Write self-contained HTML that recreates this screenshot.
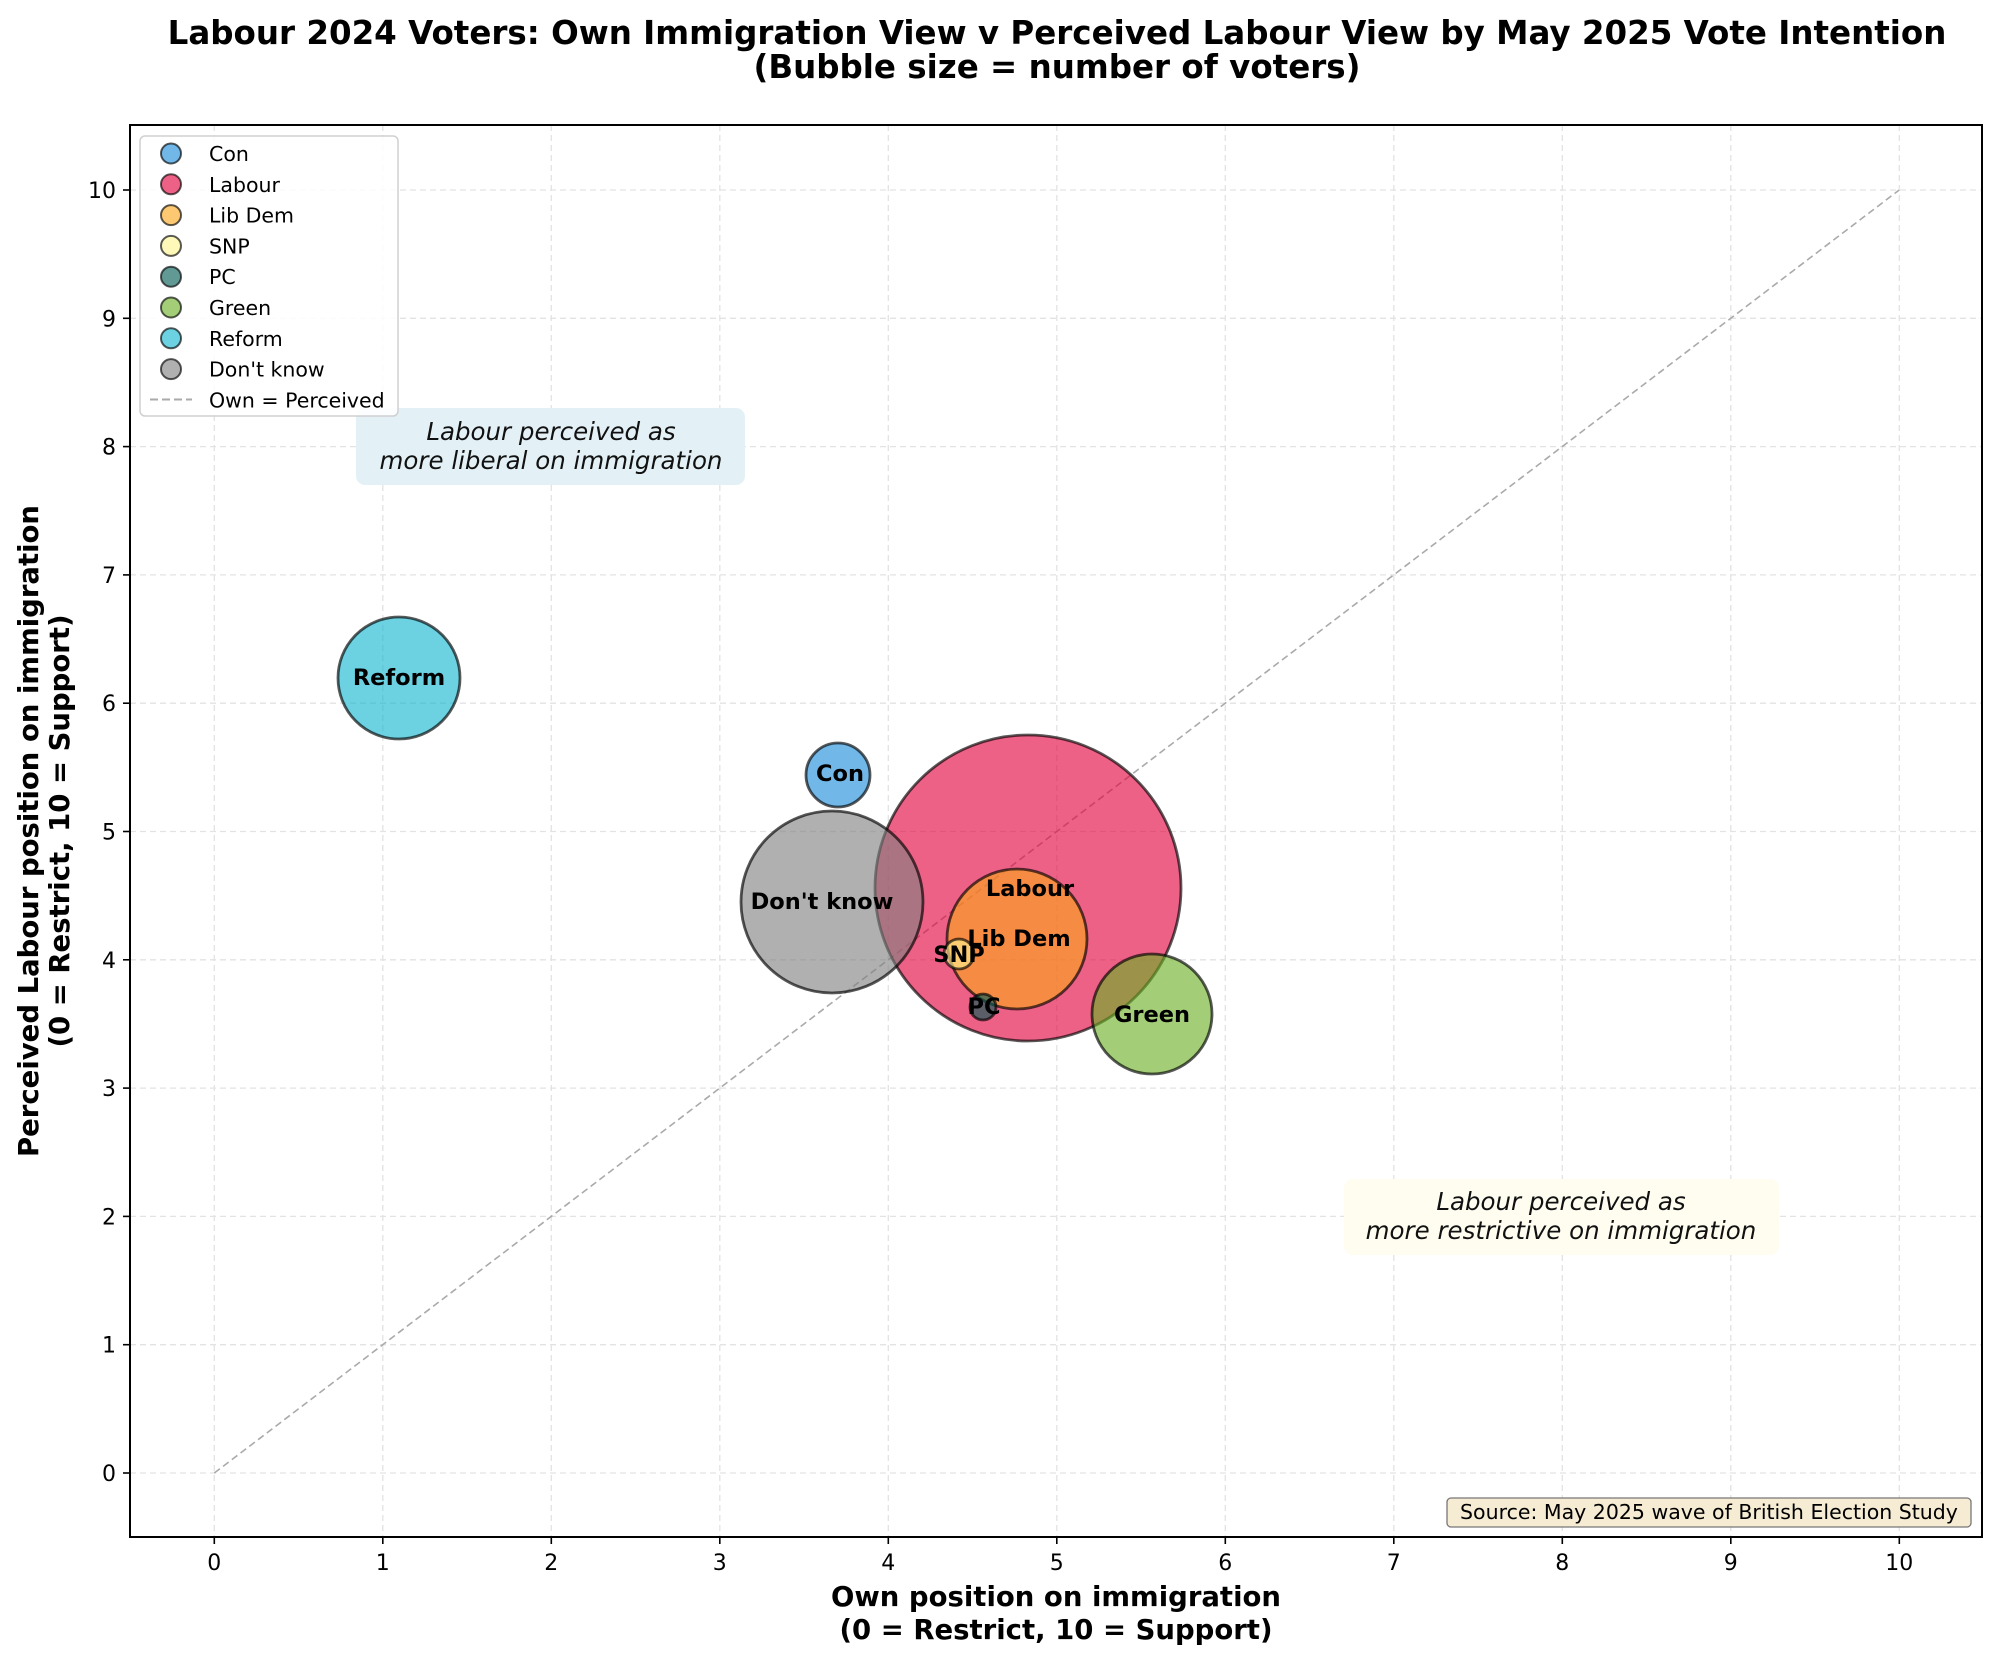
<!DOCTYPE html>
<html><head><meta charset="utf-8"><style>body{margin:0;background:#fff}svg{display:block}text{font-family:"DejaVu Sans","Liberation Sans",sans-serif}</style></head><body>
<svg width="2000" height="1662" viewBox="0 0 2000 1662" xmlns="http://www.w3.org/2000/svg">
<rect width="2000" height="1662" fill="#fff"/>
<g font-weight="bold" font-size="32.5" text-anchor="middle" fill="#000">
<text x="1057" y="44">Labour 2024 Voters: Own Immigration View v Perceived Labour View by May 2025 Vote Intention</text>
<text x="1057" y="78">(Bubble size = number of voters)</text>
</g>
<g stroke="#e3e3e3" stroke-width="1.3" stroke-dasharray="6,4">
<line x1="214.3" y1="125" x2="214.3" y2="1537"/><line x1="382.8" y1="125" x2="382.8" y2="1537"/><line x1="551.3" y1="125" x2="551.3" y2="1537"/><line x1="719.8" y1="125" x2="719.8" y2="1537"/><line x1="888.3" y1="125" x2="888.3" y2="1537"/><line x1="1056.8" y1="125" x2="1056.8" y2="1537"/><line x1="1225.3" y1="125" x2="1225.3" y2="1537"/><line x1="1393.8" y1="125" x2="1393.8" y2="1537"/><line x1="1562.3" y1="125" x2="1562.3" y2="1537"/><line x1="1730.8" y1="125" x2="1730.8" y2="1537"/><line x1="1899.3" y1="125" x2="1899.3" y2="1537"/>
<line x1="130" y1="1473" x2="1982" y2="1473"/><line x1="130" y1="1344.7" x2="1982" y2="1344.7"/><line x1="130" y1="1216.4" x2="1982" y2="1216.4"/><line x1="130" y1="1088.1" x2="1982" y2="1088.1"/><line x1="130" y1="959.8" x2="1982" y2="959.8"/><line x1="130" y1="831.5" x2="1982" y2="831.5"/><line x1="130" y1="703.2" x2="1982" y2="703.2"/><line x1="130" y1="574.9" x2="1982" y2="574.9"/><line x1="130" y1="446.6" x2="1982" y2="446.6"/><line x1="130" y1="318.3" x2="1982" y2="318.3"/><line x1="130" y1="190" x2="1982" y2="190"/>
</g>
<rect x="356" y="408" width="389" height="77" rx="9" fill="#e3f1f6"/>
<rect x="1344" y="1179" width="435" height="76" rx="9" fill="#fffdf0"/>
<g font-style="italic" font-size="24.5" text-anchor="middle" fill="#111">
<text x="551" y="440">Labour perceived as</text><text x="551" y="469">more liberal on immigration</text>
<text x="1561" y="1210">Labour perceived as</text><text x="1561" y="1239">more restrictive on immigration</text>
</g>
<line x1="214.3" y1="1473" x2="1899.2" y2="190" stroke="#aaa" stroke-width="1.6" stroke-dasharray="7,4"/>
<g stroke="rgba(0,0,0,0.65)" stroke-width="2.8" fill-opacity="0.62">
<circle cx="838" cy="775" r="32" fill="#1a8ad8"/>
<circle cx="1028" cy="888" r="153" fill="#E4003B"/>
<circle cx="1017" cy="939" r="70" fill="#FAA61A"/>
<circle cx="959" cy="954" r="15" fill="#FDF38E"/>
<circle cx="983" cy="1007" r="13" fill="#005B54"/>
<circle cx="1152" cy="1014" r="60" fill="#6AB023"/>
<circle cx="399" cy="678" r="61" fill="#12B6CF"/>
<circle cx="832" cy="902" r="91" fill="#808080"/>
</g>
<g font-weight="bold" font-size="22.5" text-anchor="middle" fill="#000">
<text x="840" y="781">Con</text><text x="1030" y="896">Labour</text><text x="1019" y="946">Lib Dem</text><text x="959" y="962">SNP</text><text x="984" y="1014">PC</text><text x="1152" y="1022">Green</text><text x="399" y="685">Reform</text><text x="822" y="909">Don't know</text>
</g>
<rect x="130" y="125" width="1852" height="1412" fill="none" stroke="#000" stroke-width="2"/>
<g stroke="#000" stroke-width="1.6">
<line x1="214.3" y1="1537" x2="214.3" y2="1544"/><line x1="382.8" y1="1537" x2="382.8" y2="1544"/><line x1="551.3" y1="1537" x2="551.3" y2="1544"/><line x1="719.8" y1="1537" x2="719.8" y2="1544"/><line x1="888.3" y1="1537" x2="888.3" y2="1544"/><line x1="1056.8" y1="1537" x2="1056.8" y2="1544"/><line x1="1225.3" y1="1537" x2="1225.3" y2="1544"/><line x1="1393.8" y1="1537" x2="1393.8" y2="1544"/><line x1="1562.3" y1="1537" x2="1562.3" y2="1544"/><line x1="1730.8" y1="1537" x2="1730.8" y2="1544"/><line x1="1899.3" y1="1537" x2="1899.3" y2="1544"/>
<line x1="123" y1="1473" x2="130" y2="1473"/><line x1="123" y1="1344.7" x2="130" y2="1344.7"/><line x1="123" y1="1216.4" x2="130" y2="1216.4"/><line x1="123" y1="1088.1" x2="130" y2="1088.1"/><line x1="123" y1="959.8" x2="130" y2="959.8"/><line x1="123" y1="831.5" x2="130" y2="831.5"/><line x1="123" y1="703.2" x2="130" y2="703.2"/><line x1="123" y1="574.9" x2="130" y2="574.9"/><line x1="123" y1="446.6" x2="130" y2="446.6"/><line x1="123" y1="318.3" x2="130" y2="318.3"/><line x1="123" y1="190" x2="130" y2="190"/>
</g>
<g font-size="22" text-anchor="middle" fill="#000">
<text x="214.3" y="1570">0</text><text x="382.8" y="1570">1</text><text x="551.3" y="1570">2</text><text x="719.8" y="1570">3</text><text x="888.3" y="1570">4</text><text x="1056.8" y="1570">5</text><text x="1225.3" y="1570">6</text><text x="1393.8" y="1570">7</text><text x="1562.3" y="1570">8</text><text x="1730.8" y="1570">9</text><text x="1899.3" y="1570">10</text>
</g>
<g font-size="22" text-anchor="end" fill="#000">
<text x="116" y="1481">0</text><text x="116" y="1352.7">1</text><text x="116" y="1224.4">2</text><text x="116" y="1096.1">3</text><text x="116" y="967.8">4</text><text x="116" y="839.5">5</text><text x="116" y="711.2">6</text><text x="116" y="582.9">7</text><text x="116" y="454.6">8</text><text x="116" y="326.3">9</text><text x="116" y="198">10</text>
</g>
<g font-weight="bold" font-size="27.5" text-anchor="middle" fill="#000">
<text x="1056" y="1606">Own position on immigration</text><text x="1056" y="1639">(0 = Restrict, 10 = Support)</text>
<g transform="translate(38,831) rotate(-90)"><text x="0" y="0">Perceived Labour position on immigration</text><text x="0" y="31">(0 = Restrict, 10 = Support)</text></g>
</g>
<rect x="140" y="136" width="258" height="280" rx="5" fill="#fff" fill-opacity="0.85" stroke="#d0d0d0" stroke-width="1.5"/>
<g stroke="rgba(0,0,0,0.65)" stroke-width="2" fill-opacity="0.62">
<circle cx="171" cy="153.5" r="10" fill="#1a8ad8"/><circle cx="171" cy="184.3" r="10" fill="#E4003B"/><circle cx="171" cy="215.1" r="10" fill="#FAA61A"/><circle cx="171" cy="245.9" r="10" fill="#FDF38E"/><circle cx="171" cy="276.7" r="10" fill="#005B54"/><circle cx="171" cy="307.5" r="10" fill="#6AB023"/><circle cx="171" cy="338.3" r="10" fill="#12B6CF"/><circle cx="171" cy="369.1" r="10" fill="#808080"/>
</g>
<line x1="150" y1="399.5" x2="192" y2="399.5" stroke="#aaa" stroke-width="2" stroke-dasharray="8,4"/>
<g font-size="20.5" fill="#000">
<text x="209" y="161">Con</text><text x="209" y="191.8">Labour</text><text x="209" y="222.6">Lib Dem</text><text x="209" y="253.4">SNP</text><text x="209" y="284.2">PC</text><text x="209" y="315">Green</text><text x="209" y="345.8">Reform</text><text x="209" y="376.6">Don't know</text><text x="209" y="407.4">Own = Perceived</text>
</g>
<rect x="1447" y="1498" width="524" height="29" rx="4" fill="#f6ebd3" stroke="#777" stroke-width="1.3"/>
<text x="1709" y="1519" font-size="20.5" text-anchor="middle" fill="#000">Source: May 2025 wave of British Election Study</text>
</svg>
</body></html>
